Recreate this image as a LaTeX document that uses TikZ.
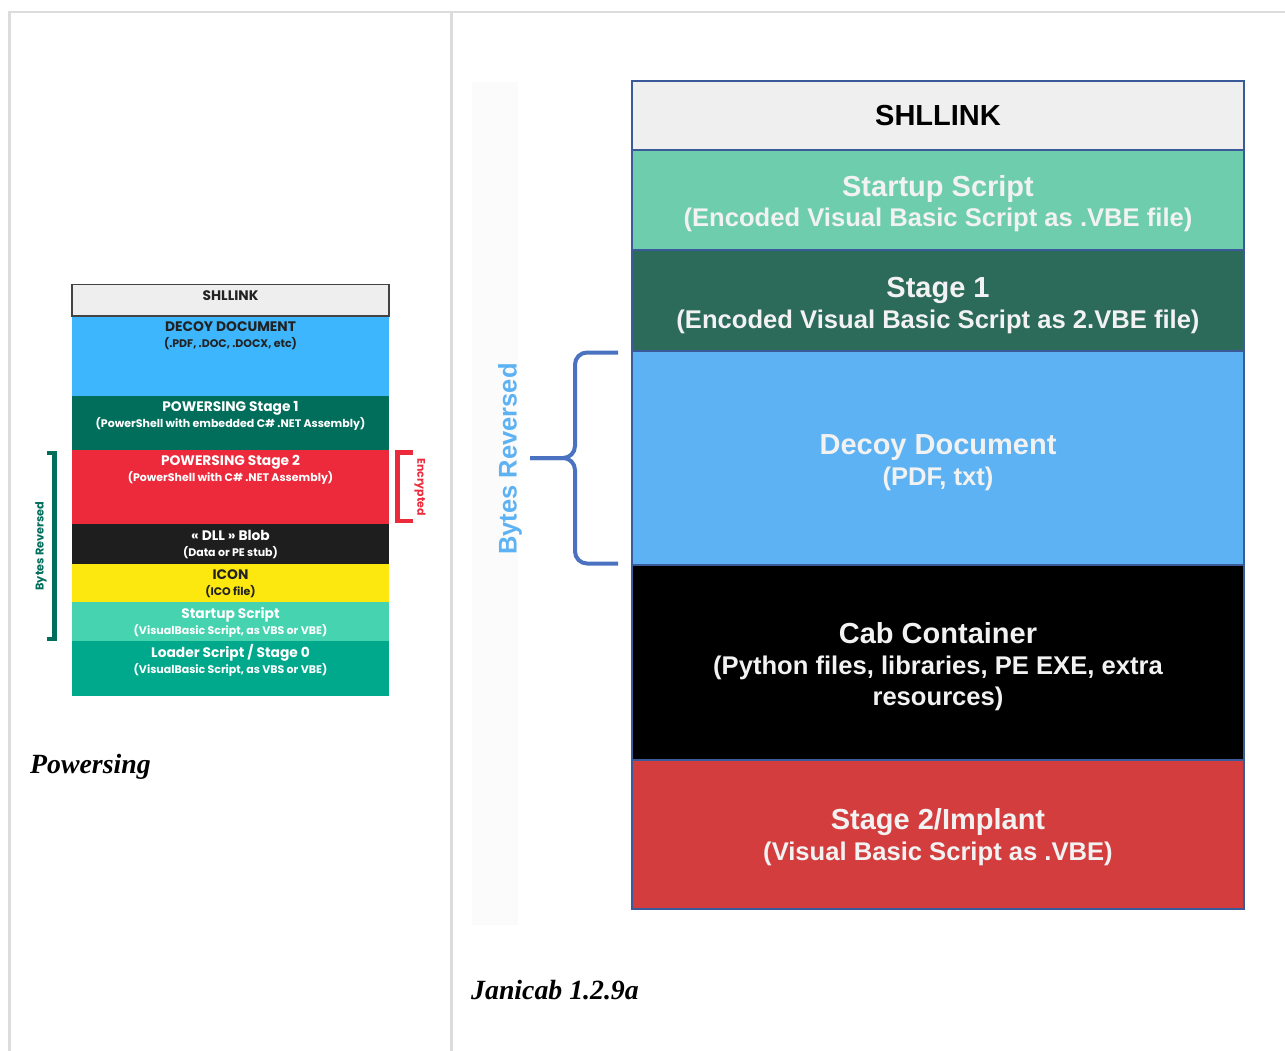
\documentclass[tikz,border=0pt]{standalone}
\usepackage{fontspec}
\setmainfont{Liberation Serif}
\newfontfamily\pwfont{Poppins}
\newfontfamily\jcfont{Liberation Sans}

% Powersing colours
\definecolor{pwshl}{HTML}{EEEEEE}
\definecolor{pwdecoy}{HTML}{3DB6FD}
\definecolor{pwstagea}{HTML}{016E5B}
\definecolor{pwstageb}{HTML}{EC2A3B}
\definecolor{pwdll}{HTML}{1E1E1E}
\definecolor{pwicon}{HTML}{FCE70F}
\definecolor{pwstartup}{HTML}{45D3B0}
\definecolor{pwloader}{HTML}{00A98C}
\definecolor{pwdark}{HTML}{222222}
% Janicab colours
\definecolor{jcshl}{HTML}{EFEFEF}
\definecolor{jcstartup}{HTML}{6DCDAD}
\definecolor{jcstagea}{HTML}{2C6A5A}
\definecolor{jcdecoy}{HTML}{5DB2F3}
\definecolor{jcstageb}{HTML}{D33D3E}
\definecolor{jcline}{HTML}{3B5A9A}
\definecolor{jcbrace}{HTML}{4A72C0}
\definecolor{jcwhite}{HTML}{F2F2F2}
\definecolor{tabgrid}{HTML}{DCDCDC}

\begin{document}
\begin{tikzpicture}[x=1pt,y=-1pt,
  pwtitle/.style={anchor=base,inner sep=0,font=\pwfont\bfseries\fontsize{13.8}{15}\selectfont},
  pwsub/.style={anchor=base,inner sep=0,font=\pwfont\bfseries\fontsize{11}{12}\selectfont},
  jctitle/.style={anchor=base,inner sep=0,text=jcwhite,font=\jcfont\bfseries\fontsize{29}{32}\selectfont},
  jcsub/.style={anchor=base,inner sep=0,text=jcwhite,font=\jcfont\bfseries\fontsize{25.6}{30}\selectfont},
  jcband/.style={draw=jcline,line width=1.2},
  caption/.style={anchor=base west,inner sep=0,font=\bfseries\itshape\fontsize{27.8}{30}\selectfont}]
  \useasboundingbox (0,0) rectangle (1285,1051);

  % Table lines
  \draw[tabgrid,line width=2.5] (8,12) -- (1285,12);
  \draw[tabgrid,line width=2.5] (9.5,12) -- (9.5,1051);
  \draw[tabgrid,line width=2.5] (451.5,12) -- (451.5,1051);

  % Powersing layers
  \fill[pwdecoy] (72,316) rectangle (389,396);
  \fill[pwstagea] (72,396) rectangle (389,450);
  \fill[pwstageb] (72,450) rectangle (389,524);
  \fill[pwdll] (72,524) rectangle (389,564);
  \fill[pwicon] (72,564) rectangle (389,602);
  \fill[pwstartup] (72,602) rectangle (389,641);
  \fill[pwloader] (72,641) rectangle (389,696);
  \filldraw[fill=pwshl,draw=pwdark!85,line width=1.5] (72,284.5) rectangle (389,316);

  % Powersing labels
  \node[pwtitle,text=pwdark] (pshl) at (230.5,300.5) {SHLLINK};
  \node[pwtitle,text=pwdark] (pdecoy) at (230.5,331.8) {DECOY DOCUMENT};
  \node[pwsub,text=pwdark] (pdecoysub) at (230.5,347) {(.PDF, .DOC, .DOCX, etc)};
  \node[pwtitle,text=white] (pstagea) at (230.5,411.8) {POWERSING Stage 1};
  \node[pwsub,text=white] (pstageasub) at (230.5,427) {(PowerShell with embedded C\# .NET Assembly)};
  \node[pwtitle,text=white] (pstageb) at (230.5,465.8) {POWERSING Stage 2};
  \node[pwsub,text=white] (pstagebsub) at (230.5,481) {(PowerShell with C\# .NET Assembly)};
  \node[pwtitle,text=white] (pdll) at (230.5,540.8) {« DLL » Blob};
  \node[pwsub,text=white] (pdllsub) at (230.5,556) {(Data or PE stub)};
  \node[pwtitle,text=pwdark] (picon) at (230.5,579.8) {ICON};
  \node[pwsub,text=pwdark] (piconsub) at (230.5,595) {(ICO file)};
  \node[pwtitle,text=white] (pstartup) at (230.5,618.8) {Startup Script};
  \node[pwsub,text=white] (pstartupsub) at (230.5,634) {(VisualBasic Script, as VBS or VBE)};
  \node[pwtitle,text=white] (ploader) at (230.5,657.8) {Loader Script / Stage 0};
  \node[pwsub,text=white] (ploadersub) at (230.5,673) {(VisualBasic Script, as VBS or VBE)};

  % Powersing brackets
  \draw[pwstagea,line width=4.5] (47,453) -- (54.5,453) -- (54.5,639) -- (47,639);
  \node[rotate=90,text=pwstagea,inner sep=0,font=\pwfont\bfseries\fontsize{11.3}{12}\selectfont] (prev) at (41,546) {Bytes Reversed};
  \draw[pwstageb,line width=4.5] (413,452.5) -- (397.5,452.5) -- (397.5,521) -- (413,521);
  \node[rotate=-90,text=pwstageb,inner sep=0,font=\pwfont\bfseries\fontsize{11}{12}\selectfont] (penc) at (420,487) {Encrypted};

  \node[caption] (pcap) at (30,773) {Powersing};

  % Janicab layers
  \fill[black!1.5] (472,82) rectangle (518,925);
  \filldraw[jcband,fill=jcshl] (632,81) rectangle (1244,150);
  \filldraw[jcband,fill=jcstartup] (632,150) rectangle (1244,250);
  \filldraw[jcband,fill=jcstagea] (632,250) rectangle (1244,351);
  \filldraw[jcband,fill=jcdecoy] (632,351) rectangle (1244,565);
  \filldraw[jcband,fill=black] (632,565) rectangle (1244,760);
  \filldraw[jcband,fill=jcstageb] (632,760) rectangle (1244,909);
  \draw[jcline,line width=2] (632,81) rectangle (1244,909);

  % Janicab labels
  \node[jctitle,text=black] (jshl) at (938,126) {SHLLINK};
  \node[jctitle] (jstartup) at (938,196.5) {Startup Script};
  \node[jcsub] (jstartupsub) at (938,227) {(Encoded Visual Basic Script as .VBE file)};
  \node[jctitle] (jstagea) at (938,297.5) {Stage 1};
  \node[jcsub] (jstageasub) at (938,328) {(Encoded Visual Basic Script as 2.VBE file)};
  \node[jctitle] (jdecoy) at (938,454.5) {Decoy Document};
  \node[jcsub] (jdecoysub) at (938,485) {(PDF, txt)};
  \node[jctitle] (jcab) at (938,643.5) {Cab Container};
  \node[jcsub] (jcabsub) at (938,674) {(Python files, libraries, PE EXE, extra};
  \node[jcsub] (jcabsubb) at (938,705) {resources)};
  \node[jctitle] (jstageb) at (938,829.5) {Stage 2/Implant};
  \node[jcsub] (jstagebsub) at (938,860) {(Visual Basic Script as .VBE)};

  % Janicab brace
  \draw[jcbrace,line width=4,rounded corners=12] (618,352.5) -- (575,352.5) -- (575,458) -- (530,458);
  \draw[jcbrace,line width=4,rounded corners=12] (530,458) -- (575,458) -- (575,563.5) -- (618,563.5);
  \node[rotate=90,text=jcdecoy,inner sep=0,font=\jcfont\bfseries\fontsize{25.5}{28}\selectfont] (jrev) at (510,459) {Bytes Reversed};

  \node[caption] (jcap) at (471,999) {Janicab 1.2.9a};
\end{tikzpicture}
\end{document}
